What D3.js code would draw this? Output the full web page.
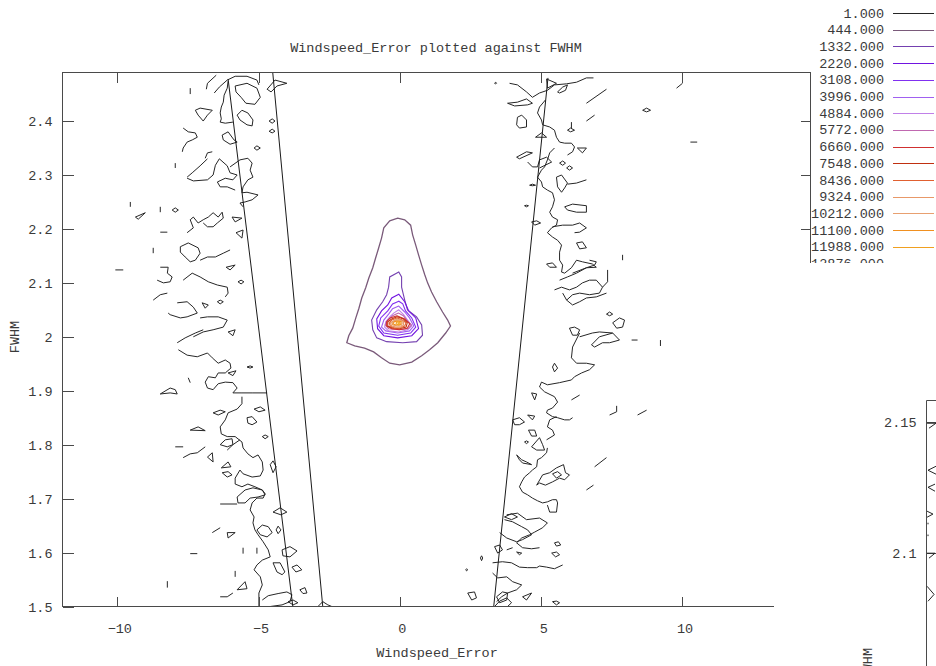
<!DOCTYPE html>
<html>
<head>
<meta charset="utf-8">
<script src="https://cdn.jsdelivr.net/npm/d3@7"></script>
<style>
  html, body { margin: 0; padding: 0; background: #fff; }
  svg { display: block; }
  text { font-family: "Liberation Mono", "DejaVu Sans Mono", monospace; font-size: 13.5px; fill: #3a3a3a; }
</style>
</head>
<body>
<svg id="chart" width="936" height="666"></svg>
<script>
// ---- axis ticks ----
const xTicks = [-10, -5, 0, 5, 10];
const yTicks = [1.5, 1.6, 1.7, 1.8, 1.9, 2.0, 2.1, 2.2, 2.3, 2.4];
const yTickLabels = ["1.5", "1.6", "1.7", "1.8", "1.9", "2", "2.1", "2.2", "2.3", "2.4"];

// ---- contour levels and their line colours ----
const levels = [1, 444, 1332, 2220, 3108, 3996, 4884, 5772, 6660, 7548, 8436, 9324, 10212, 11100, 11988, 12876];
const levelColors = ["#262626", "#7a5a7a", "#7440b0", "#7014e0", "#8030f0", "#a060f0", "#c080e8", "#c068b0",
                     "#d03030", "#c03010", "#e06030", "#e89868", "#e8a070", "#f09020", "#f0a020", "#f4b030"];

// ---- straight boundary lines [Windspeed_Error, FWHM] ----
const boundaryLines = [
  [[-6.08, 2.478], [-3.79, 1.5]],
  [[-4.50, 2.49], [-2.73, 1.5]],
  [[5.24, 2.480], [3.32, 1.5]]
];

// ---- level 1.000 contour pieces: open arcs ----
const level1Arcs = [
  [[-6.85,2.459],[-6.81,2.470],[-6.50,2.485]],
  [[-6.57,2.452],[-6.39,2.463],[-6.11,2.476],[-5.83,2.483],[-5.41,2.483],[-5.06,2.476],[-4.99,2.467]],
  [[-6.08,2.474],[-6.11,2.461],[-6.22,2.448],[-6.25,2.435],[-6.32,2.426],[-6.36,2.415],[-6.32,2.404],[-6.36,2.398],[-6.18,2.396],[-5.91,2.398]],
  [[-7.42,2.461],[-7.42,2.450]],
  [[-7.67,2.387],[-7.49,2.380],[-7.24,2.378],[-7.17,2.370],[-7.35,2.365],[-7.53,2.361],[-7.67,2.350],[-7.70,2.343]],
  [[-7.95,2.322],[-7.95,2.313]],
  [[-6.89,2.331],[-6.81,2.341],[-6.64,2.343]],
  [[-7.53,2.296],[-7.35,2.304],[-7.07,2.317],[-6.81,2.330]],
  [[-7.53,2.294],[-7.31,2.289],[-6.81,2.291],[-6.61,2.300],[-6.53,2.318],[-6.39,2.330],[-6.11,2.317],[-6.01,2.304],[-5.76,2.300],[-5.91,2.291],[-6.18,2.294],[-6.46,2.287],[-6.36,2.278],[-6.11,2.278],[-5.83,2.272]],
  [[-6.01,2.315],[-5.66,2.328],[-5.38,2.331],[-5.23,2.322],[-5.30,2.309],[-5.20,2.296],[-5.38,2.291],[-5.55,2.278],[-5.59,2.267],[-5.41,2.268],[-5.02,2.263],[-5.23,2.254],[-5.48,2.250],[-5.66,2.248],[-5.55,2.241]],
  [[-9.54,2.250],[-9.54,2.241]],
  [[-8.48,2.241],[-8.48,2.231]],
  [[-8.48,2.194],[-8.23,2.194]],
  [[-8.73,2.165],[-8.73,2.155]],
  [[-10.07,2.124],[-9.79,2.124]],
  [[-7.53,2.193],[-7.31,2.202],[-7.42,2.217],[-7.31,2.222],[-7.14,2.211],[-6.96,2.217],[-6.78,2.222],[-6.61,2.230],[-6.43,2.222],[-6.29,2.231],[-6.25,2.220],[-6.46,2.211],[-6.61,2.204],[-6.81,2.204],[-6.96,2.211]],
  [[-7.07,2.142],[-6.81,2.148],[-6.53,2.148],[-6.25,2.155],[-6.01,2.161]],
  [[-8.48,2.129],[-8.20,2.129],[-8.23,2.118],[-8.06,2.111],[-8.13,2.102],[-8.37,2.100],[-8.59,2.105]],
  [[-7.67,2.105],[-7.35,2.118],[-7.07,2.111],[-6.78,2.102],[-6.46,2.096],[-6.11,2.092],[-6.08,2.081],[-6.18,2.074]],
  [[-8.73,2.068],[-8.48,2.078],[-8.23,2.081]],
  [[-7.88,2.063],[-7.53,2.065],[-7.31,2.055],[-7.17,2.044],[-7.53,2.037],[-7.77,2.035],[-8.13,2.041],[-8.20,2.044]],
  [[-7.07,2.035],[-6.81,2.037],[-6.43,2.037],[-6.11,2.031],[-6.25,2.018],[-6.61,2.013],[-6.96,2.009],[-7.31,2.000]],
  [[-7.88,1.989],[-7.60,1.998],[-7.24,2.007],[-6.96,2.013]],
  [[-7.84,1.976],[-7.53,1.966],[-7.17,1.963],[-6.81,1.970],[-6.64,1.961],[-6.43,1.951],[-6.18,1.957],[-6.01,1.951],[-5.98,1.942],[-6.18,1.933],[-6.43,1.933],[-6.53,1.924],[-6.78,1.926],[-6.89,1.916],[-6.81,1.905],[-6.61,1.902],[-6.43,1.913],[-6.18,1.916],[-5.91,1.915],[-5.76,1.905],[-5.91,1.896],[-5.59,1.896],[-5.23,1.896],[-4.70,1.896]],
  [[-5.59,1.889],[-5.59,1.876],[-5.76,1.866],[-6.08,1.859],[-6.18,1.846],[-6.36,1.833],[-6.32,1.820],[-6.11,1.815],[-5.83,1.815],[-5.59,1.805],[-5.55,1.794],[-5.38,1.783],[-5.20,1.776],[-5.02,1.781],[-4.87,1.768],[-4.84,1.753],[-4.94,1.742],[-5.23,1.740],[-5.55,1.746],[-5.66,1.753],[-5.83,1.738],[-5.83,1.727],[-5.59,1.722],[-5.38,1.727],[-5.13,1.722],[-4.87,1.716],[-4.77,1.709],[-4.84,1.701],[-5.06,1.701],[-5.23,1.692],[-5.30,1.679],[-5.16,1.666],[-5.20,1.655],[-5.13,1.642],[-5.02,1.633],[-4.84,1.620],[-4.66,1.605],[-4.59,1.592],[-4.87,1.586],[-5.06,1.577],[-5.16,1.568],[-4.94,1.555],[-4.87,1.540],[-4.99,1.525],[-4.99,1.500]],
  [[-7.49,1.924],[-7.42,1.915]],
  [[-7.95,1.796],[-7.67,1.796]],
  [[-7.67,1.776],[-7.42,1.783],[-7.17,1.785],[-6.89,1.796]],
  [[-6.11,1.790],[-5.91,1.800],[-5.66,1.809]],
  [[-6.36,1.690],[-5.76,1.690]],
  [[-6.64,1.637],[-6.36,1.646]],
  [[-5.55,1.609],[-5.55,1.598]],
  [[-5.06,1.609],[-5.06,1.598]],
  [[-7.42,1.598],[-7.17,1.598]],
  [[-5.83,1.566],[-5.83,1.555]],
  [[-8.23,1.547],[-8.23,1.535]],
  [[-6.36,1.518],[-6.11,1.518],[-5.91,1.525]],
  [[-4.87,1.512],[-4.66,1.520],[-4.31,1.524],[-4.00,1.527],[-3.82,1.522],[-3.89,1.509],[-4.17,1.503],[-4.59,1.500]],
  [[-2.90,1.500],[-2.73,1.509],[-2.55,1.503],[-2.41,1.500]],
  [[3.88,2.470],[4.16,2.467],[4.48,2.454],[4.69,2.444],[4.94,2.452],[5.22,2.457],[5.47,2.467],[5.90,2.469],[6.25,2.472],[6.60,2.480],[6.85,2.480]],
  [[6.60,2.433],[7.31,2.459]],
  [[6.60,2.400],[6.89,2.411]],
  [[10.28,2.361],[10.52,2.361]],
  [[10.00,2.470],[9.79,2.461]],
  [[5.15,2.439],[4.94,2.426],[4.87,2.415],[5.01,2.402],[5.05,2.393],[5.30,2.389],[5.47,2.383],[5.54,2.370],[5.65,2.361],[5.83,2.359],[6.07,2.359],[6.18,2.352],[6.11,2.343],[5.93,2.337]],
  [[5.47,2.350],[5.30,2.341],[5.22,2.328],[5.12,2.315],[5.01,2.309],[4.87,2.296],[5.01,2.287],[5.05,2.278],[5.22,2.272],[5.40,2.267],[5.47,2.254],[5.40,2.241],[5.30,2.231],[5.40,2.222],[5.58,2.217],[5.54,2.207],[5.37,2.202],[5.22,2.193],[5.40,2.185],[5.58,2.179],[5.72,2.170],[5.65,2.157],[5.65,2.142],[5.76,2.133],[5.72,2.120],[5.83,2.118],[6.07,2.128],[6.25,2.142],[6.46,2.139],[6.81,2.135],[6.95,2.129],[6.60,2.128],[6.11,2.118]],
  [[6.07,2.398],[6.07,2.387]],
  [[4.52,2.324],[4.69,2.315],[4.87,2.315],[4.94,2.328],[5.19,2.333],[5.37,2.324],[4.94,2.313]],
  [[5.93,2.283],[6.25,2.285],[6.60,2.291]],
  [[5.40,2.204],[5.76,2.207],[6.11,2.207],[6.36,2.211],[6.60,2.202],[6.36,2.194],[6.18,2.193]],
  [[7.88,2.152],[7.88,2.142]],
  [[5.65,2.105],[5.93,2.111],[6.25,2.118],[6.60,2.128],[6.89,2.133],[6.95,2.139],[6.71,2.142]],
  [[5.47,2.087],[5.72,2.092],[6.00,2.087],[6.25,2.092],[6.46,2.100],[6.71,2.105],[6.95,2.105],[7.17,2.092],[7.06,2.081],[6.71,2.078],[6.36,2.081],[6.11,2.078],[5.90,2.068],[5.76,2.081]],
  [[7.35,2.124],[7.35,2.102],[7.17,2.092]],
  [[5.90,2.068],[6.11,2.059],[6.36,2.065],[6.60,2.072],[6.95,2.074],[7.31,2.081]],
  [[6.36,2.000],[6.81,2.007],[7.06,2.009],[7.53,2.007]],
  [[8.20,1.994],[8.41,1.994]],
  [[9.22,1.994],[9.22,1.983]],
  [[6.36,2.007],[6.11,1.981],[6.07,1.961],[6.25,1.951],[6.60,1.951],[6.89,1.948],[6.71,1.939],[6.43,1.933],[6.18,1.926],[6.07,1.920],[5.65,1.915],[5.22,1.911],[5.01,1.916],[4.94,1.907],[5.12,1.898],[5.47,1.889],[5.58,1.879],[5.40,1.868],[5.22,1.864],[5.19,1.859],[5.40,1.852],[5.58,1.850],[5.83,1.846],[6.00,1.846],[6.11,1.850]],
  [[6.07,1.883],[6.36,1.892]],
  [[7.42,1.855],[7.67,1.861],[7.67,1.872]],
  [[8.41,1.855],[8.73,1.864]],
  [[5.19,1.809],[5.47,1.818],[5.40,1.827],[5.22,1.833],[5.30,1.846],[5.54,1.852]],
  [[5.22,1.794],[5.19,1.785],[5.01,1.776],[4.87,1.772],[4.84,1.759],[4.69,1.753],[4.59,1.748],[4.41,1.740],[4.31,1.731],[4.23,1.722],[4.34,1.712],[4.52,1.707],[4.69,1.701],[4.87,1.696],[5.05,1.692],[5.22,1.694],[5.40,1.698],[5.54,1.698],[5.58,1.692],[5.54,1.675],[5.30,1.675],[5.22,1.688]],
  [[6.89,1.759],[7.31,1.776]],
  [[6.60,1.716],[6.85,1.725]],
  [[3.78,1.670],[4.16,1.673],[4.48,1.661],[4.94,1.664],[5.22,1.655],[5.05,1.646],[4.77,1.638],[4.59,1.633],[4.31,1.627],[4.13,1.618],[4.34,1.609],[4.66,1.607],[4.94,1.609]],
  [[3.70,1.661],[3.99,1.657],[4.31,1.648],[4.52,1.642],[4.66,1.633],[4.34,1.624],[4.13,1.620],[3.78,1.627],[3.53,1.637]],
  [[3.78,1.605],[3.99,1.609]],
  [[3.28,1.581],[3.63,1.583],[3.95,1.581],[4.23,1.573],[4.52,1.572],[4.84,1.572],[4.94,1.575],[5.19,1.573],[5.47,1.570],[5.76,1.577]],
  [[3.28,1.562],[3.46,1.553],[3.78,1.555],[3.99,1.546],[4.31,1.540],[4.13,1.531],[3.81,1.525],[3.60,1.518],[3.42,1.509]],
  [[2.82,1.500],[3.00,1.500]],
  [[3.35,1.500],[3.53,1.510],[3.78,1.516],[3.95,1.507],[3.81,1.500]]
];

// ---- level 1.000 contour pieces: closed loops ----
const level1Loops = [
  [[-5.83,2.465],[-5.41,2.470],[-5.06,2.461],[-4.94,2.444],[-5.13,2.431],[-5.45,2.433],[-5.62,2.444],[-5.80,2.454]],
  [[-4.70,2.459],[-4.42,2.476],[-4.00,2.470],[-4.35,2.465],[-4.56,2.454]],
  [[-7.24,2.420],[-7.07,2.424],[-6.64,2.420],[-6.81,2.411],[-6.96,2.400],[-7.14,2.411]],
  [[-5.76,2.411],[-5.59,2.420],[-5.38,2.415],[-5.20,2.402],[-5.23,2.391],[-5.41,2.393],[-5.66,2.402]],
  [[-4.63,2.400],[-4.52,2.404],[-4.42,2.400],[-4.52,2.396]],
  [[-4.63,2.381],[-4.52,2.385],[-4.42,2.381],[-4.52,2.378]],
  [[-5.16,2.350],[-5.06,2.354],[-4.94,2.350],[-5.06,2.346]],
  [[-6.29,2.374],[-6.08,2.380],[-5.87,2.365],[-5.76,2.361],[-6.01,2.357],[-6.25,2.365]],
  [[-5.94,2.222],[-5.59,2.220],[-5.83,2.213]],
  [[-5.80,2.193],[-5.55,2.198],[-5.59,2.183]],
  [[-6.15,2.129],[-5.83,2.133],[-6.01,2.124]],
  [[-5.73,2.102],[-5.62,2.105],[-5.52,2.102],[-5.62,2.098]],
  [[-7.00,2.063],[-6.78,2.059],[-6.89,2.053]],
  [[-6.46,2.065],[-6.36,2.068],[-6.25,2.065],[-6.36,2.061]],
  [[-6.08,2.009],[-5.83,2.013],[-5.91,2.002]],
  [[-8.06,2.235],[-7.95,2.239],[-7.84,2.235],[-7.95,2.231]],
  [[-9.36,2.222],[-9.01,2.230],[-9.26,2.218]],
  [[-7.77,2.167],[-7.49,2.174],[-7.14,2.165],[-7.07,2.155],[-7.24,2.142],[-7.42,2.139],[-7.60,2.148],[-7.77,2.157]],
  [[-8.48,1.894],[-8.13,1.905],[-7.95,1.902],[-7.88,1.894],[-8.13,1.896]],
  [[-5.41,1.944],[-5.30,1.946],[-5.20,1.944],[-5.30,1.942]],
  [[-6.08,1.933],[-5.80,1.937],[-5.91,1.928]],
  [[-6.61,1.859],[-6.36,1.864],[-6.18,1.861],[-6.43,1.855]],
  [[-5.16,1.866],[-4.94,1.870],[-4.77,1.864],[-4.99,1.861]],
  [[-5.41,1.850],[-5.23,1.852],[-5.06,1.842],[-5.23,1.837],[-5.38,1.840]],
  [[-7.42,1.827],[-7.14,1.833],[-6.89,1.826]],
  [[-4.87,1.815],[-4.77,1.818],[-4.66,1.815],[-4.77,1.811]],
  [[-6.81,1.777],[-6.64,1.785],[-6.61,1.768]],
  [[-6.36,1.800],[-6.18,1.809],[-5.94,1.811],[-5.91,1.800],[-6.11,1.796]],
  [[-6.32,1.757],[-6.08,1.768],[-5.98,1.759]],
  [[-6.29,1.748],[-6.08,1.750],[-5.94,1.744],[-6.11,1.740]],
  [[-4.59,1.763],[-4.49,1.770],[-4.38,1.759],[-4.49,1.748]],
  [[-5.76,1.703],[-5.48,1.716],[-5.20,1.720],[-4.87,1.716],[-4.77,1.707],[-5.02,1.703],[-5.30,1.701],[-5.48,1.692],[-5.73,1.692]],
  [[-5.06,1.642],[-4.87,1.651],[-4.66,1.648],[-4.52,1.637],[-4.70,1.629],[-4.94,1.633]],
  [[-4.49,1.675],[-4.24,1.683],[-4.00,1.675],[-4.21,1.670]],
  [[-4.38,1.642],[-4.31,1.649],[-4.21,1.642],[-4.31,1.635]],
  [[-6.11,1.637],[-5.83,1.637],[-6.08,1.627]],
  [[-4.17,1.605],[-3.89,1.611],[-3.64,1.603],[-3.89,1.592],[-4.14,1.594]],
  [[-4.49,1.581],[-4.24,1.581],[-4.07,1.564],[-4.17,1.559],[-4.35,1.564]],
  [[-3.82,1.573],[-3.64,1.577],[-3.47,1.568],[-3.68,1.564]],
  [[-3.54,1.531],[-3.36,1.535],[-3.29,1.525],[-3.43,1.524]],
  [[-5.76,1.531],[-5.48,1.546],[-5.41,1.533]],
  [[-3.96,1.509],[-3.78,1.512],[-3.61,1.507],[-3.78,1.503]],
  [[3.35,2.470],[3.39,2.472],[3.42,2.470],[3.39,2.469]],
  [[5.19,2.478],[5.54,2.470],[5.22,2.461]],
  [[5.58,2.454],[5.76,2.463],[5.93,2.467],[5.86,2.457],[5.65,2.452]],
  [[3.81,2.433],[4.16,2.435],[4.48,2.441],[4.69,2.433],[4.52,2.430],[4.06,2.428]],
  [[4.16,2.407],[4.31,2.411],[4.48,2.402],[4.48,2.389],[4.23,2.387],[4.13,2.393]],
  [[8.59,2.420],[8.73,2.424],[8.87,2.420],[8.73,2.417]],
  [[4.80,2.370],[5.01,2.378],[5.19,2.370]],
  [[5.93,2.383],[6.04,2.387],[6.18,2.383],[6.04,2.380]],
  [[6.28,2.350],[6.60,2.350],[6.46,2.341]],
  [[4.13,2.333],[4.48,2.343],[4.69,2.341],[4.23,2.330]],
  [[5.65,2.322],[5.76,2.326],[5.86,2.322],[5.76,2.318]],
  [[5.90,2.313],[6.00,2.317],[6.11,2.313],[6.00,2.309]],
  [[5.54,2.296],[5.72,2.300],[5.93,2.285],[5.83,2.276],[5.72,2.268],[5.58,2.278]],
  [[4.59,2.281],[4.69,2.283],[4.80,2.281],[4.69,2.280]],
  [[4.41,2.243],[4.48,2.244],[4.55,2.243],[4.48,2.241]],
  [[5.83,2.241],[6.11,2.246],[6.60,2.243],[6.60,2.231],[6.25,2.231],[5.93,2.235]],
  [[4.66,2.213],[4.84,2.215],[4.98,2.211],[4.77,2.207]],
  [[6.25,2.174],[6.46,2.176],[6.60,2.165],[6.36,2.163]],
  [[5.19,2.135],[5.40,2.137],[5.54,2.129],[5.30,2.129]],
  [[7.31,2.042],[7.42,2.046],[7.53,2.042],[7.42,2.039]],
  [[7.53,2.026],[7.77,2.035],[7.95,2.031],[7.88,2.018],[7.67,2.016]],
  [[6.00,2.016],[6.18,2.018],[6.36,2.013],[6.28,2.003],[6.11,2.003]],
  [[6.78,1.985],[7.06,2.000],[7.53,2.007],[7.77,1.994],[7.42,1.989],[7.17,1.989],[6.89,1.981]],
  [[5.40,1.944],[5.47,1.951],[5.58,1.942],[5.47,1.935]],
  [[4.66,1.896],[4.84,1.894],[4.77,1.883]],
  [[3.99,1.846],[4.23,1.850],[4.41,1.842],[4.23,1.837],[4.06,1.837]],
  [[4.52,1.855],[4.77,1.853],[4.69,1.846]],
  [[4.55,1.827],[4.77,1.827],[4.84,1.816],[4.66,1.816]],
  [[4.41,1.805],[4.48,1.807],[4.55,1.805],[4.48,1.802]],
  [[4.66,1.796],[4.94,1.813],[5.05,1.800],[5.12,1.790],[4.84,1.790]],
  [[4.13,1.781],[4.23,1.772],[4.34,1.766],[4.66,1.763],[4.48,1.768],[4.31,1.772]],
  [[5.05,1.744],[5.30,1.748],[5.54,1.757],[5.79,1.763],[5.86,1.748],[6.00,1.744],[5.83,1.735],[5.65,1.738],[5.40,1.731],[5.15,1.725],[4.94,1.729],[4.84,1.725]],
  [[5.40,1.746],[5.58,1.750],[5.72,1.744],[5.54,1.738]],
  [[3.70,1.666],[3.95,1.672],[4.16,1.666],[3.95,1.661]],
  [[3.35,1.611],[3.53,1.614],[3.63,1.605],[3.46,1.599]],
  [[5.47,1.618],[5.61,1.620],[5.69,1.614],[5.54,1.612]],
  [[5.37,1.599],[5.54,1.601],[5.65,1.596],[5.51,1.592]],
  [[4.13,1.601],[4.31,1.599],[4.23,1.596]],
  [[3.42,1.518],[3.63,1.527],[3.81,1.525],[3.78,1.512],[3.53,1.507]],
  [[2.40,1.525],[2.64,1.527],[2.71,1.516],[2.54,1.512]],
  [[2.85,1.590],[2.89,1.594],[2.93,1.590],[2.89,1.585]],
  [[2.33,1.568],[2.36,1.570],[2.40,1.568],[2.36,1.566]],
  [[4.34,1.518],[4.66,1.525],[4.48,1.512]],
  [[5.40,1.509],[5.54,1.510],[5.65,1.507],[5.54,1.503]]
];

// ---- core contour rings, one per level from 444.000 upward ----
const coreRings = [
  [[-0.08,2.220],[0.17,2.217],[0.38,2.207],[0.45,2.189],[0.56,2.170],[0.66,2.152],[0.77,2.133],[0.88,2.115],[0.98,2.100],[1.12,2.083],[1.30,2.065],[1.51,2.046],[1.69,2.031],[1.79,2.020],[1.62,2.007],[1.34,1.989],[1.05,1.976],[0.77,1.965],[0.42,1.953],[-0.01,1.948],[-0.36,1.951],[-0.65,1.961],[-0.93,1.972],[-1.25,1.979],[-1.60,1.983],[-1.88,1.989],[-1.81,2.002],[-1.67,2.016],[-1.56,2.035],[-1.45,2.053],[-1.35,2.072],[-1.21,2.091],[-1.10,2.109],[-0.96,2.128],[-0.86,2.146],[-0.75,2.165],[-0.65,2.183],[-0.57,2.202],[-0.36,2.215]],
  [[-0.04,2.120],[-0.36,2.111],[-0.40,2.092],[-0.47,2.078],[-0.61,2.065],[-0.82,2.050],[-1.00,2.031],[-0.96,2.013],[-0.82,1.998],[-0.47,1.991],[0.10,1.989],[0.59,1.991],[0.80,2.003],[0.77,2.022],[0.59,2.037],[0.27,2.050],[0.17,2.068],[0.06,2.092],[0.06,2.111]],
  [[-0.04,2.079],[-0.29,2.072],[-0.43,2.059],[-0.65,2.048],[-0.82,2.033],[-0.79,2.015],[-0.57,2.002],[-0.08,1.998],[0.42,2.002],[0.66,2.015],[0.56,2.035],[0.31,2.048],[0.17,2.065]],
  [[-0.04,2.066],[-0.26,2.061],[-0.43,2.048],[-0.68,2.035],[-0.75,2.020],[-0.57,2.007],[-0.08,2.003],[0.38,2.007],[0.56,2.018],[0.42,2.035],[0.20,2.048],[0.10,2.061]],
  [[-0.04,2.057],[-0.26,2.052],[-0.40,2.042],[-0.57,2.031],[-0.65,2.018],[-0.50,2.011],[-0.08,2.007],[0.34,2.011],[0.49,2.020],[0.34,2.035],[0.17,2.046]],
  [[-0.04,2.050],[-0.22,2.044],[-0.36,2.037],[-0.50,2.028],[-0.54,2.018],[-0.40,2.011],[-0.04,2.009],[0.27,2.013],[0.42,2.020],[0.27,2.031],[0.13,2.041]],
  [[-0.05,2.044],[-0.26,2.039],[-0.43,2.031],[-0.52,2.022],[-0.40,2.015],[-0.05,2.013],[0.29,2.015],[0.41,2.022],[0.24,2.031],[0.12,2.039]],
  [[-0.10,2.039],[-0.34,2.035],[-0.47,2.028],[-0.47,2.020],[-0.29,2.015],[-0.01,2.013],[0.26,2.016],[0.35,2.024],[0.17,2.033]],
  [[-0.10,2.037],[-0.29,2.033],[-0.43,2.028],[-0.43,2.020],[-0.25,2.016],[-0.01,2.015],[0.22,2.018],[0.26,2.026],[0.13,2.033]],
  [[-0.10,2.035],[-0.29,2.031],[-0.38,2.026],[-0.34,2.020],[-0.20,2.016],[-0.01,2.016],[0.17,2.020],[0.22,2.026],[0.08,2.031]],
  [[-0.10,2.033],[-0.25,2.029],[-0.34,2.026],[-0.29,2.020],[-0.14,2.018],[0.04,2.018],[0.13,2.022],[0.13,2.028],[0.04,2.031]],
  [[-0.10,2.031],[-0.20,2.029],[-0.29,2.026],[-0.25,2.022],[-0.10,2.020],[0.04,2.020],[0.08,2.024],[0.08,2.028],[-0.01,2.031]],
  [[-0.10,2.029],[-0.20,2.028],[-0.25,2.024],[-0.14,2.022],[-0.01,2.022],[0.04,2.024],[0.04,2.028],[-0.05,2.029]],
  [[-0.08,2.028],[-0.13,2.026],[-0.13,2.024],[-0.04,2.022],[0.00,2.024],[0.00,2.026]],
  [[-0.06,2.026],[-0.06,2.024],[-0.03,2.024],[-0.03,2.026]]
];

// ---- second window (lower right): FWHM axis and the edge of its contours ----
const insetTicks = [2.1, 2.15];
const insetMarks = [
  [[-7.896,2.1495],[-7.831,2.1495],[-7.882,2.1476]],
  [[-7.831,2.1331],[-7.889,2.1316],[-7.831,2.1301]],
  [[-7.838,2.1263],[-7.889,2.1251],[-7.838,2.1236]],
  [[-7.896,2.1160],[-7.853,2.1149],[-7.896,2.1137]],
  [[-7.889,2.1116],[-7.889,2.1110]],
  [[-7.889,2.1071],[-7.889,2.1065]],
  [[-7.896,2.1000],[-7.838,2.1000],[-7.882,2.0981]],
  [[-7.896,2.0874],[-7.845,2.0843],[-7.889,2.0817]]
];

// ================= drawing =================
const svg = d3.select("#chart");
const frame = { left: 62.5, right: 810.5, top: 72.5, bottom: 606.5 };

const x = d3.scaleLinear().domain([-11.94, 14.53]).range([frame.left, frame.right]);
const y = d3.scaleLinear().domain([1.5, 2.49]).range([frame.bottom, frame.top]);

const defs = svg.append("defs");
defs.append("clipPath").attr("id", "plotClip")
  .append("rect")
  .attr("x", frame.left).attr("y", frame.top)
  .attr("width", frame.right - frame.left).attr("height", frame.bottom - frame.top);
defs.append("clipPath").attr("id", "keyClip")
  .append("rect").attr("x", 770).attr("y", 0).attr("width", 166).attr("height", 263);

const line = d3.line().x(d => x(d[0])).y(d => y(d[1]));
const plot = svg.append("g").attr("clip-path", "url(#plotClip)");

// level 1 contours
plot.append("g").selectAll("path").data(level1Arcs).join("path")
  .attr("d", d => line(d))
  .attr("fill", "none").attr("stroke", levelColors[0]).attr("stroke-width", 1);
plot.append("g").selectAll("path").data(level1Loops).join("path")
  .attr("d", d => line(d) + "Z")
  .attr("fill", "none").attr("stroke", levelColors[0]).attr("stroke-width", 1);

// straight lines
plot.append("g").selectAll("path").data(boundaryLines).join("path")
  .attr("d", d => line(d))
  .attr("fill", "none").attr("stroke", "#1a1a1a").attr("stroke-width", 1);

// core rings, lowest level first
plot.append("g").selectAll("path").data(coreRings).join("path")
  .attr("d", d => line(d) + "Z")
  .attr("fill", "none")
  .attr("stroke", (d, i) => levelColors[i + 1])
  .attr("stroke-width", (d, i) => i === 0 ? 1.3 : 1.1);

// frame
svg.append("rect")
  .attr("x", frame.left).attr("y", frame.top)
  .attr("width", frame.right - frame.left).attr("height", frame.bottom - frame.top)
  .attr("fill", "none").attr("stroke", "#4a4a4a").attr("stroke-width", 1);

// axes with inward ticks
const axisStyle = g => {
  g.select(".domain").remove();
  g.selectAll(".tick line").attr("stroke", "#4a4a4a").attr("shape-rendering", "crispEdges");
  g.selectAll(".tick text").attr("fill", "#3a3a3a").style("font-family", "\"Liberation Mono\", \"DejaVu Sans Mono\", monospace").style("font-size", "13.5px");
};

svg.append("g").attr("transform", `translate(0,${frame.bottom})`)
  .call(d3.axisBottom(x).tickValues(xTicks).tickSize(-10).tickSizeOuter(0).tickFormat(d3.format("d")))
  .call(axisStyle)
  .call(g => g.selectAll(".tick text").attr("y", 26).attr("dy", 0).attr("dx", 2));

svg.append("g").attr("transform", `translate(0,${frame.top})`)
  .call(d3.axisTop(x).tickValues(xTicks).tickSize(-10).tickSizeOuter(0).tickFormat(""))
  .call(axisStyle);

svg.append("g").attr("transform", `translate(${frame.left},0)`)
  .call(d3.axisLeft(y).tickValues(yTicks).tickSize(-11).tickSizeOuter(0).tickFormat((d, i) => yTickLabels[i]))
  .call(axisStyle)
  .call(g => g.selectAll(".tick text").attr("x", -10).attr("dy", "0.35em"));

svg.append("g").attr("transform", `translate(${frame.right},0)`)
  .call(d3.axisRight(y).tickValues(yTicks).tickSize(-10).tickSizeOuter(0).tickFormat(""))
  .call(axisStyle);

// titles
svg.append("text").attr("x", 436).attr("y", 52).attr("text-anchor", "middle")
  .text("Windspeed_Error plotted against FWHM");
svg.append("text").attr("x", 437).attr("y", 657).attr("text-anchor", "middle")
  .text("Windspeed_Error");
svg.append("text").attr("transform", "translate(19,337) rotate(-90)").attr("text-anchor", "middle")
  .text("FWHM");

// key
const key = svg.append("g").attr("clip-path", "url(#keyClip)");
const keyRow = d3.scaleLinear().domain([0, levels.length - 1]).range([13, 263.5]);
levels.forEach((lv, i) => {
  key.append("text").attr("x", 884).attr("y", keyRow(i) + 4.5).attr("text-anchor", "end")
    .text(d3.format(".3f")(lv));
  key.append("line").attr("x1", 893).attr("x2", 934)
    .attr("y1", Math.round(keyRow(i)) + 0.5).attr("y2", Math.round(keyRow(i)) + 0.5)
    .attr("stroke", levelColors[i]).attr("stroke-width", 1.2);
});

// second window covering the lower right corner
svg.append("rect").attr("x", 774).attr("y", 263).attr("width", 162).attr("height", 403).attr("fill", "#fff");

const iy = d3.scaleLinear().domain([2.057, 2.158]).range([666.1, 400.9]);
const ix = d3.scaleLinear().domain([-7.9, -4.5]).range([926.5, 1394.3]);
const iline = d3.line().x(d => ix(d[0])).y(d => iy(d[1]));

svg.append("path")
  .attr("d", `M936,${iy(2.158) - 0.4}H926.5V666`)
  .attr("fill", "none").attr("stroke", "#4a4a4a").attr("stroke-width", 1);
svg.append("g").attr("transform", "translate(926.5,0)")
  .call(d3.axisLeft(iy).tickValues(insetTicks).tickSize(-10).tickSizeOuter(0).tickFormat(d3.format(".3~f")))
  .call(axisStyle)
  .call(g => g.selectAll(".tick text").attr("x", -10).attr("dy", "0.35em"));
svg.append("g").selectAll("path").data(insetMarks).join("path")
  .attr("d", d => iline(d))
  .attr("fill", "none").attr("stroke", "#262626").attr("stroke-width", 1);
svg.append("text").attr("transform", "translate(872,648) rotate(-90)").attr("text-anchor", "end")
  .text("FWHM");
</script>
</body>
</html>
